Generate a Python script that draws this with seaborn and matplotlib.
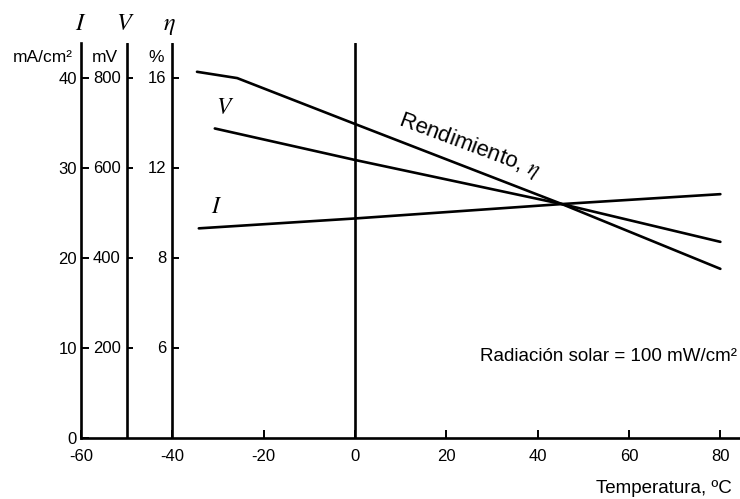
import numpy as np
import pandas as pd
import matplotlib
matplotlib.use("Agg")
import matplotlib.pyplot as plt
import seaborn as sns

# ---- data -------------------------------------------------------------
# efficiency (%), open-circuit voltage (mV) and current density (mA/cm²)
# versus cell temperature (°C)
temp_eta = [-34.6, -25.8, 0, 45.3, 80]
eta_pct = [16.28, 16.0, 13.96, 10.4, 7.76]

temp_v = [-30.7, 0, 45.3, 80]
v_mv = [688, 618, 520, 436]

temp_i = [-34.2, 0, 45.3, 80]
i_ma = [23.3, 24.4, 26.0, 27.1]

# scale marks of the three stacked vertical axes
i_ticks = [0, 10, 20, 30, 40]
v_ticks = [200, 400, 600, 800]
eta_ticks = [6, 8, 12, 16]
temp_ticks = [-60, -40, -20, 0, 20, 40, 60, 80]

# ---- style ------------------------------------------------------------
sns.set_theme(style="white")
plt.rcParams["font.family"] = ["Liberation Sans", "DejaVu Sans"]
plt.rcParams["mathtext.fontset"] = "stix"
plt.rcParams["axes.unicode_minus"] = False

LW = 1.9
INK = "black"
TICK_FS = 12

# every curve is drawn on the common grid of the mA/cm² scale
def v_to_grid(v):
    return np.asarray(v, float) / 20.0

def eta_to_grid(e):
    # the % scale is marked 6, 8, 12, 16 on the 10, 20, 30, 40 grid lines
    return np.interp(e, eta_ticks + [20], i_ticks[1:] + [50])

frames = [
    pd.DataFrame({"T": temp_eta, "y": eta_to_grid(eta_pct), "curve": "eta"}),
    pd.DataFrame({"T": temp_v, "y": v_to_grid(v_mv), "curve": "V"}),
    pd.DataFrame({"T": temp_i, "y": i_ma, "curve": "I"}),
]
df = pd.concat(frames, ignore_index=True)

fig = plt.figure(figsize=(7.4, 4.99), dpi=100)
ax = fig.add_axes([81 / 740, 61 / 499, 659 / 740, 395 / 499])

sns.lineplot(data=df, x="T", y="y", units="curve", estimator=None,
             color=INK, linewidth=LW, sort=False, ax=ax, legend=False)

ax.set_xlim(-60, 84.3)
ax.set_ylim(0, 43.9)
ax.set_xlabel("")
ax.set_ylabel("")

# spines: left (mA/cm²) and bottom (temperature)
for side in ("top", "right"):
    ax.spines[side].set_visible(False)
for side in ("left", "bottom"):
    ax.spines[side].set_linewidth(LW)
    ax.spines[side].set_color(INK)

# extra vertical scales for V and eta, plus the 0 °C reference line
for xv in (-50, -40, 0):
    ax.axvline(xv, color=INK, linewidth=LW, zorder=3)

# x axis
ax.set_xticks(temp_ticks)
ax.set_xticklabels([str(t) for t in temp_ticks])
ax.tick_params(axis="x", direction="in", length=6, width=1.4, pad=8,
               labelsize=TICK_FS, colors=INK, bottom=True)

# mA/cm² axis (left spine)
ax.set_yticks(i_ticks)
ax.set_yticklabels([str(t) for t in i_ticks])
ax.tick_params(axis="y", direction="in", length=6, width=1.4, pad=3,
               labelsize=TICK_FS, colors=INK, left=True)

# V and eta scale marks
tick_len = 1.35
for xv, labels in ((-50, v_ticks), (-40, eta_ticks)):
    for yv, lab in zip(i_ticks[1:], labels):
        ax.plot([xv, xv + tick_len], [yv, yv], color=INK, linewidth=1.4,
                solid_capstyle="butt", zorder=3)
        ax.text(xv - 1.3, yv, str(lab), ha="right", va="center",
                fontsize=TICK_FS, color=INK)

# units under the axis symbols
ax.text(-61.7, 41.8, "mA/cm²", ha="right", va="baseline", fontsize=12.5,
        color=INK, clip_on=False)
ax.text(-51.9, 41.8, "mV", ha="right", va="baseline", fontsize=12.5,
        color=INK, clip_on=False)
ax.text(-41.8, 41.8, "%", ha="right", va="baseline", fontsize=12.5,
        color=INK, clip_on=False)

# axis symbols above the scales
for xv, sym in ((-60.1, "$I$"), (-50.3, "$V$"), (-40.6, r"$\eta$")):
    ax.text(xv, 45.3, sym, ha="center", va="baseline", fontsize=17.5,
            color=INK, clip_on=False)

# curve labels
ax.text(-28.5, 36.0, "$V$", ha="center", va="baseline", fontsize=17, color=INK)
ax.text(-30.3, 25.0, "$I$", ha="center", va="baseline", fontsize=17, color=INK)
ax.text(9.2, 34.9, r"Rendimiento, $\eta$", ha="left", va="baseline",
        rotation=-20.5, rotation_mode="anchor", fontsize=16, color=INK)

ax.text(83.6, 8.56, "Radiación solar = 100 mW/cm²", ha="right",
        va="baseline", fontsize=13.5, color=INK)
ax.text(82.5, -6.1, "Temperatura, ºC", ha="right", va="baseline",
        fontsize=13.5, color=INK, clip_on=False)

fig.savefig("out.png", dpi=100, facecolor="white")
